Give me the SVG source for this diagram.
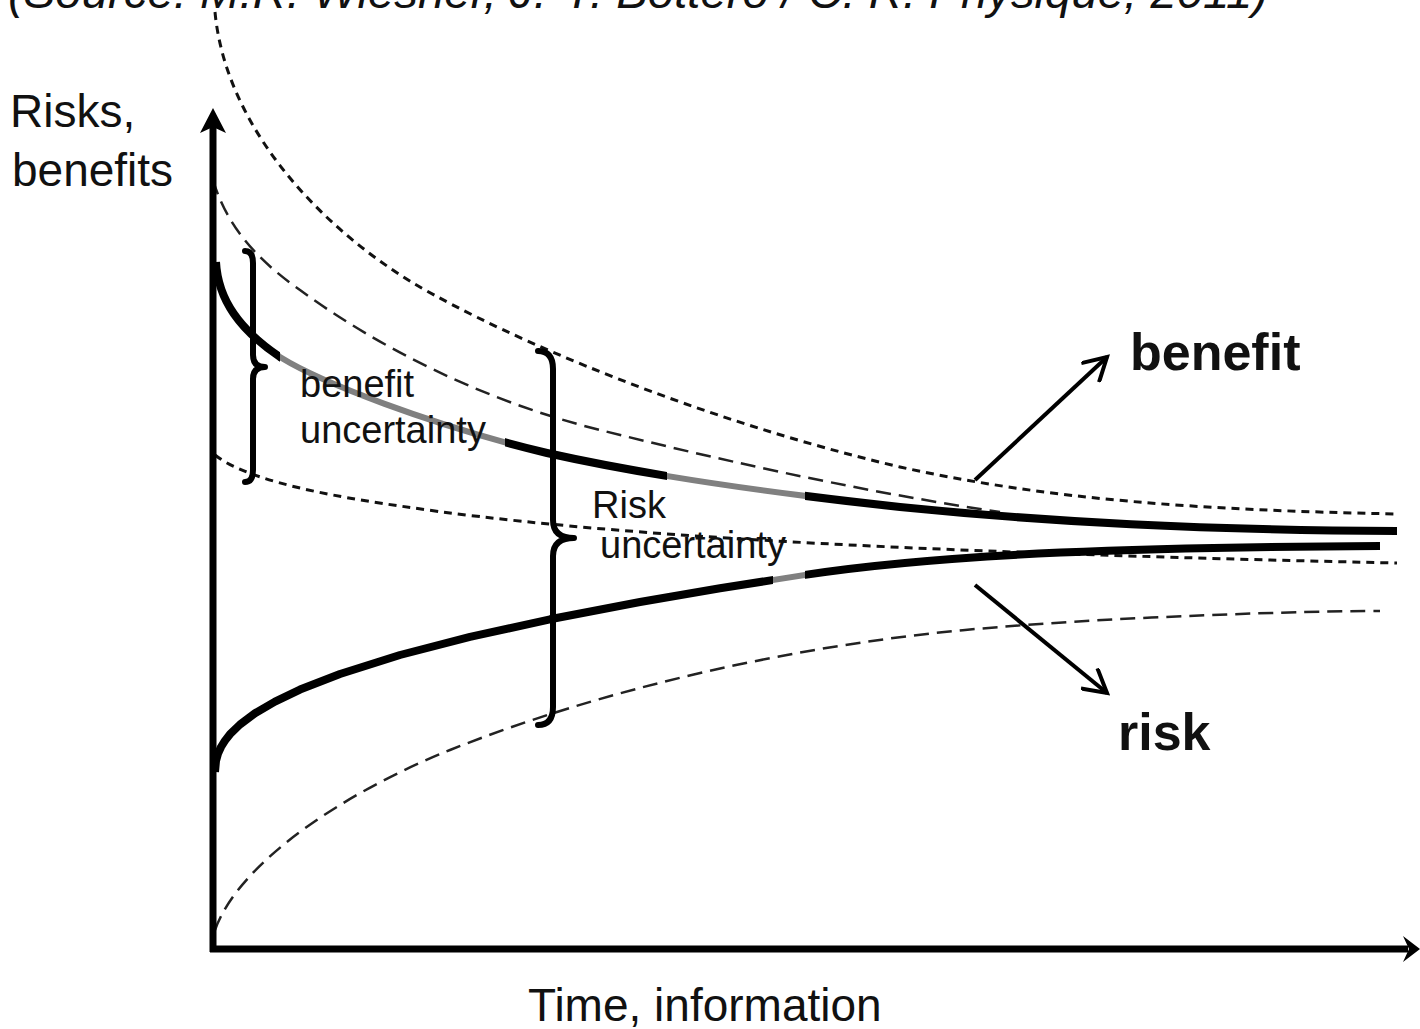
<svg xmlns="http://www.w3.org/2000/svg" width="1420" height="1029" viewBox="0 0 1420 1029">
  <style>
    .lbl { font-family: "Liberation Sans", Arial, sans-serif; fill: #111; }
    .big { font-size: 46px; }
    .small { font-size: 38px; }
    .bold { font-size: 52px; font-weight: bold; }
    .axis { stroke: #000; stroke-width: 7; fill: none; }
    .curve { fill: none; stroke: #000; stroke-width: 8; stroke-linecap: butt; stroke-linejoin: round; }
    .curve-gray { fill: none; stroke: #808080; stroke-width: 6; stroke-linejoin: round; }
    .dash-s { fill: none; stroke: #111; stroke-width: 3; stroke-dasharray: 8 6; }
    .dash-l { fill: none; stroke: #222; stroke-width: 2.5; stroke-dasharray: 15 8; }
    .brace { fill: none; stroke: #000; stroke-width: 6; stroke-linecap: round; stroke-linejoin: round; }
    .arrow { fill: none; stroke: #000; stroke-width: 4; marker-end: url(#chev); }
  </style>
  <defs>
    <marker id="chev" viewBox="0 0 14 14" markerWidth="28" markerHeight="28" refX="12" refY="7" orient="auto" markerUnits="userSpaceOnUse">
      <path d="M0.5,0.5 L12,7 L0.5,13.5" fill="none" stroke="#000" stroke-width="2"/>
    </marker>
    <clipPath id="benBlack"><rect x="0" y="0" width="280" height="1029"/><rect x="505" y="0" width="162" height="1029"/><rect x="805" y="0" width="615" height="1029"/></clipPath>
    <clipPath id="benGray"><rect x="280" y="0" width="225" height="1029"/><rect x="667" y="0" width="138" height="1029"/></clipPath>
    <clipPath id="riskBlack"><rect x="0" y="0" width="773" height="1029"/><rect x="805" y="0" width="615" height="1029"/></clipPath>
    <clipPath id="riskGray"><rect x="773" y="0" width="32" height="1029"/></clipPath>
    <path id="benPath" d="M 216 262 C 218 300, 240 330, 280 357 C 320 382, 430 425, 547 453 C 650 476, 780 494, 900 507 C 1050 522, 1200 530, 1397 531"/>
    <path id="riskPath" d="M 215 772 L 216 760.8 L 218 753.7 L 221 747 L 225 740.6 L 230 734.2 L 240 724.5 L 255 713.3 L 275 701.6 L 300 689.6 L 340 674 L 400 655 L 470 636.9 L 550 619.3 L 640 602 L 720 588.3 L 805 574.9 C 950 553, 1150 547, 1380 546"/>
  </defs>
  <rect width="1420" height="1029" fill="#fff"/>

  <g id="source">
    <text class="lbl" x="8" y="8" font-size="46" font-style="italic" textLength="1260" lengthAdjust="spacingAndGlyphs">(Source: M.R. Wiesner, J.-Y. Bottero / C. R. Physique, 2011)</text>
  </g>

  <g id="dashed-bounds">
    <path id="benefit-upper" class="dash-s" d="M 215 12 C 225 120, 310 220, 413 283 C 510 340, 700 420, 900 467 C 1050 500, 1200 510, 1397 514"/>
    <path id="benefit-inner" class="dash-l" d="M 213 180 C 225 220, 250 255, 300 290 C 375 345, 480 400, 600 430 C 700 455, 850 490, 1000 512"/>
    <path id="middle" class="dash-s" d="M 215 455 C 240 475, 300 492, 400 506 C 600 536, 900 552, 1397 563"/>
    <path id="risk-lower" class="dash-l" d="M 215 930 C 240 860, 350 790, 450 750 C 600 690, 800 642, 1000 627 C 1120 617, 1300 611, 1380 611"/>
  </g>

  <g id="benefit-curve">
    <use href="#benPath" class="curve" clip-path="url(#benBlack)"/>
    <use href="#benPath" class="curve-gray" clip-path="url(#benGray)"/>
  </g>
  <g id="risk-curve">
    <use href="#riskPath" class="curve" clip-path="url(#riskBlack)"/>
    <use href="#riskPath" class="curve-gray" clip-path="url(#riskGray)"/>
  </g>

  <g id="axes">
    <line class="axis" x1="213" y1="125" x2="213" y2="952"/>
    <line class="axis" x1="210" y1="949" x2="1408" y2="949"/>
    <path d="M213 108 L226 133 L213 127 L200 133 Z" fill="#000"/>
    <path d="M1420 949 L1403 936 L1409 949 L1403 962 Z" fill="#000"/>
  </g>

  <g id="braces">
    <path id="brace-benefit" class="brace" d="M 245 251 Q 253 251 253 263 L 253 355 Q 253 367 265 367 Q 253 367 253 379 L 253 470 Q 253 482 245 482"/>
    <path id="brace-risk" class="brace" d="M 538 351 Q 553 351 553 369 L 553 520 Q 553 538 574 538 Q 553 538 553 556 L 553 707 Q 553 725 538 725"/>
  </g>

  <g id="connectors">
    <line class="arrow" x1="975" y1="480" x2="1107" y2="357"/>
    <line class="arrow" x1="975" y1="585" x2="1107" y2="693"/>
  </g>

  <g id="labels">
    <text class="lbl big" x="10" y="127">Risks,</text>
    <text class="lbl big" x="12" y="186">benefits</text>
    <text class="lbl big" x="528" y="1021">Time, information</text>
    <text class="lbl small" x="300" y="397">benefit</text>
    <text class="lbl small" x="300" y="443">uncertainty</text>
    <text class="lbl small" x="592" y="518">Risk</text>
    <text class="lbl small" x="600" y="558">uncertainty</text>
    <text class="lbl bold" x="1130" y="370">benefit</text>
    <text class="lbl bold" x="1118" y="750">risk</text>
  </g>
</svg>
